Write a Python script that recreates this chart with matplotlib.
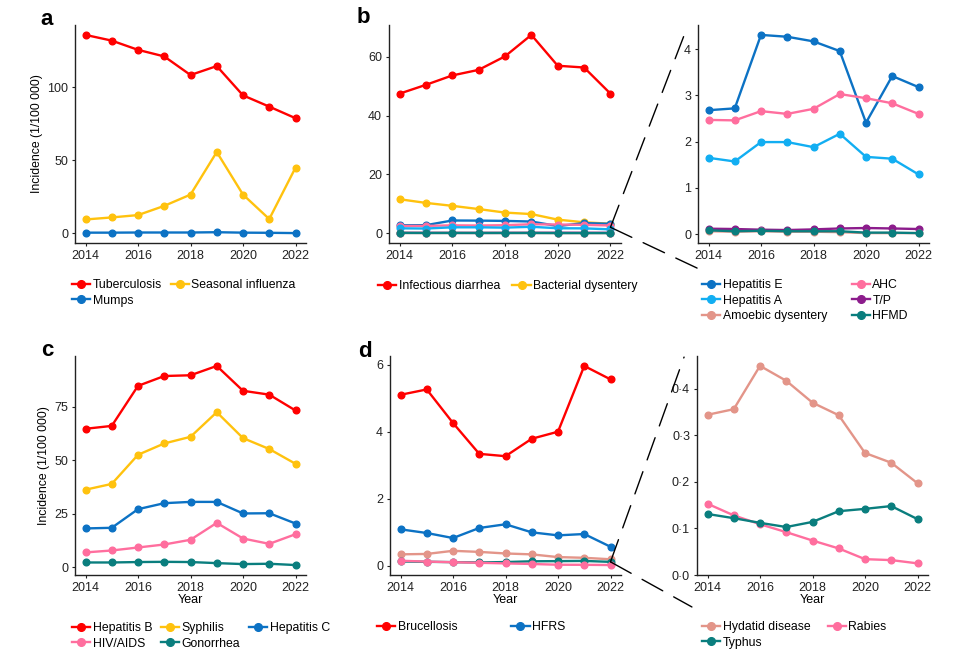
import matplotlib
matplotlib.use("Agg")
import matplotlib.pyplot as plt
from matplotlib.patches import ConnectionPatch
from matplotlib.ticker import FuncFormatter

plt.rcParams["font.family"] = ["Liberation Sans", "DejaVu Sans"]
plt.rcParams["font.size"] = 8.8

years = [2014, 2015, 2016, 2017, 2018, 2019, 2020, 2021, 2022]
xticks = [2014, 2016, 2018, 2020, 2022]

# panel a - respiratory
tuberculosis = [135.6, 131.7, 125.4, 120.9, 108.2, 114.3, 94.3, 86.6, 78.7]
influenza = [9.5, 10.9, 12.5, 18.8, 26.5, 55.6, 26.5, 9.8, 44.9]
mumps = [0.5, 0.5, 0.6, 0.6, 0.6, 0.8, 0.5, 0.4, 0.2]

# panel b - intestinal
diarrhea = [47.5, 50.5, 53.7, 55.6, 60.2, 67.5, 57.0, 56.4, 47.5]
bact_dysentery = [11.55, 10.3, 9.3, 8.2, 7.0, 6.5, 4.6, 3.7, 3.2]
hep_e = [2.68, 2.72, 4.31, 4.27, 4.17, 3.96, 2.41, 3.42, 3.18]
ahc = [2.47, 2.46, 2.66, 2.60, 2.71, 3.03, 2.94, 2.83, 2.60]
hep_a = [1.65, 1.57, 1.99, 1.99, 1.88, 2.17, 1.67, 1.63, 1.29]
tp = [0.115, 0.108, 0.094, 0.086, 0.10, 0.12, 0.13, 0.12, 0.108]
amoebic = [0.06, 0.05, 0.06, 0.05, 0.05, 0.04, 0.02, 0.02, 0.02]
hfmd = [0.08, 0.06, 0.07, 0.06, 0.06, 0.06, 0.03, 0.03, 0.02]

# panel c - blood and sexually transmitted
hep_b = [64.75, 66.1, 84.8, 89.4, 89.75, 94.1, 82.5, 80.7, 73.3]
syphilis = [36.3, 39.0, 52.6, 57.9, 61.0, 72.5, 60.4, 55.3, 48.4]
hep_c = [18.2, 18.5, 27.2, 30.0, 30.6, 30.6, 25.2, 25.3, 20.5]
hiv = [7.0, 7.9, 9.3, 10.7, 12.9, 20.8, 13.5, 11.0, 15.5]
gonorrhea = [2.3, 2.3, 2.5, 2.6, 2.5, 2.0, 1.55, 1.7, 1.1]

# panel d - zoonotic / vector-borne
brucellosis = [5.10, 5.26, 4.26, 3.34, 3.27, 3.79, 4.00, 5.96, 5.56]
hfrs = [1.09, 0.98, 0.83, 1.13, 1.24, 1.00, 0.91, 0.95, 0.57]
hydatid = [0.344, 0.356, 0.449, 0.417, 0.370, 0.343, 0.262, 0.241, 0.197]
rabies = [0.153, 0.128, 0.109, 0.092, 0.074, 0.057, 0.034, 0.032, 0.025]
typhus = [0.131, 0.122, 0.112, 0.103, 0.114, 0.137, 0.142, 0.148, 0.120]

RED = "#FF0000"
YELLOW = "#FFC20E"
BLUE = "#0C72C4"
LIGHTBLUE = "#12AEF2"
PINK = "#FF6E9E"
PURPLE = "#8C1C8C"
TEAL = "#0A7E7E"
SALMON = "#E39589"

W, H = 978, 658
fig = plt.figure(figsize=(W / 100, H / 100), dpi=100)


def px_axes(left, top, right, bottom):
    return fig.add_axes([left / W, 1 - bottom / H, (right - left) / W, (bottom - top) / H])


def style(ax, yticks, xlabel=False, ylabel=False):
    for s in ("top", "right"):
        ax.spines[s].set_visible(False)
    for s in ("left", "bottom"):
        ax.spines[s].set_linewidth(1.0)
        ax.spines[s].set_color("#222222")
    ax.tick_params(direction="out", length=2.5, width=0.8, colors="#222222",
                   labelsize=9, pad=2.5)
    ax.set_xticks(xticks)
    ax.set_yticks(yticks)
    if xlabel:
        ax.set_xlabel("Year", labelpad=0, fontsize=9)
    if ylabel:
        ax.set_ylabel("Incidence (1/100 000)", labelpad=3)


def line(ax, y, color, label):
    return ax.plot(years, y, color=color, lw=1.7, marker="o", ms=4.8,
                   label=label)[0]


def legend(handles, x, y, ncol, colsp):
    fig.legend(handles=handles, loc="upper left", bbox_to_anchor=(x / W, 1 - y / H),
               ncol=ncol, frameon=False, fontsize=8.8, handlelength=1.5,
               handletextpad=0.2, columnspacing=colsp, labelspacing=0.3,
               borderpad=0, borderaxespad=0, markerscale=1.15)


# a
ax_a = px_axes(75, 25, 306, 243)
h_tb = line(ax_a, tuberculosis, RED, "Tuberculosis")
h_flu = line(ax_a, influenza, YELLOW, "Seasonal influenza")
h_mu = line(ax_a, mumps, BLUE, "Mumps")
style(ax_a, [0, 50, 100], ylabel=True)
legend([h_tb, h_mu, h_flu], 72, 279, 2, 0.7)

# b left
ax_b1 = px_axes(389, 25, 621, 243)
h_dia = line(ax_b1, diarrhea, RED, "Infectious diarrhea")
h_bd = line(ax_b1, bact_dysentery, YELLOW, "Bacterial dysentery")
for vals, col in [(hep_e, BLUE), (ahc, PINK), (hep_a, LIGHTBLUE), (tp, PURPLE),
                  (amoebic, SALMON), (hfmd, TEAL)]:
    line(ax_b1, vals, col, None)
style(ax_b1, [0, 20, 40, 60])
legend([h_dia, h_bd], 378, 280, 2, 1.0)

# b right
ax_b2 = px_axes(698, 25, 929, 243)
h_he = line(ax_b2, hep_e, BLUE, "Hepatitis E")
h_ahc = line(ax_b2, ahc, PINK, "AHC")
h_ha = line(ax_b2, hep_a, LIGHTBLUE, "Hepatitis A")
h_tp = line(ax_b2, tp, PURPLE, "T/P")
h_am = line(ax_b2, amoebic, SALMON, "Amoebic dysentery")
h_hf = line(ax_b2, hfmd, TEAL, "HFMD")
style(ax_b2, [0, 1, 2, 3, 4])
legend([h_he, h_ha, h_am, h_ahc, h_tp, h_hf], 702, 279, 2, 2.0)

# c
ax_c = px_axes(75, 356, 306, 575)
h_hb = line(ax_c, hep_b, RED, "Hepatitis B")
h_sy = line(ax_c, syphilis, YELLOW, "Syphilis")
h_hc = line(ax_c, hep_c, BLUE, "Hepatitis C")
h_hiv = line(ax_c, hiv, PINK, "HIV/AIDS")
h_go = line(ax_c, gonorrhea, TEAL, "Gonorrhea")
style(ax_c, [0, 25, 50, 75], xlabel=True, ylabel=True)
legend([h_hb, h_hiv, h_sy, h_go, h_hc], 72, 622, 3, 0.7)

# d left
ax_d1 = px_axes(390, 356, 621, 575)
h_br = line(ax_d1, brucellosis, RED, "Brucellosis")
h_hfrs = line(ax_d1, hfrs, BLUE, "HFRS")
for vals, col in [(hydatid, SALMON), (typhus, TEAL), (rabies, PINK)]:
    line(ax_d1, vals, col, None)
style(ax_d1, [0, 2, 4, 6], xlabel=True)
legend([h_br, h_hfrs], 377, 621, 2, 4.4)

# d right
ax_d2 = px_axes(697, 356, 928, 575)
h_hy = line(ax_d2, hydatid, SALMON, "Hydatid disease")
h_ra = line(ax_d2, rabies, PINK, "Rabies")
h_ty = line(ax_d2, typhus, TEAL, "Typhus")
style(ax_d2, [0, 0.1, 0.2, 0.3, 0.4], xlabel=True)
ax_d2.yaxis.set_major_formatter(FuncFormatter(lambda v, _: f"{v:.1f}".replace(".", "\u00b7")))
legend([h_hy, h_ty, h_ra], 702, 621, 2, 1.4)

# dashed zoom connectors
for src, start, dst, ends in [
    (ax_b1, (2022, 2.0), ax_b2, [(-0.043, 1.0), (-0.004, -0.115)]),
    (ax_d1, (2022, 0.12), ax_d2, [(-0.056, 0.995), (-0.022, -0.146)]),
]:
    for end in ends:
        con = ConnectionPatch(xyA=start, coordsA=src.transData, xyB=end,
                              coordsB=dst.transAxes, color="black", lw=1.0,
                              linestyle=(0, (17, 9)))
        fig.add_artist(con)

# panel letters
for letter, x, y in [("a", 40, 25), ("b", 357, 23), ("c", 41, 356), ("d", 358, 357)]:
    fig.text(x / W, 1 - y / H, letter, fontsize=16, fontweight="bold", va="baseline")

fig.savefig("out.png", dpi=100)
